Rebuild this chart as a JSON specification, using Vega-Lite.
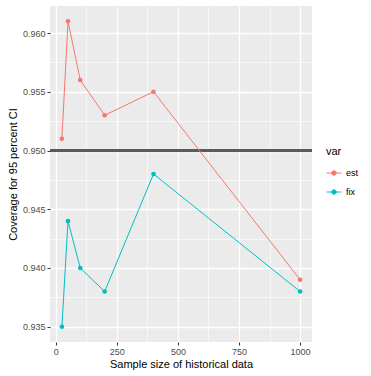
{
  "$schema": "https://vega.github.io/schema/vega-lite/v6.json",
  "autosize": {"type": "none"},
  "padding": {"left": 50, "top": 6, "right": 59, "bottom": 34},
  "width": 262,
  "height": 336,
  "background": "white",
  "config": {
    "font": "Liberation Sans",
    "view": {"fill": "#EBEBEB", "stroke": null},
    "axis": {
      "domain": false,
      "gridColor": "white",
      "tickColor": "#333333",
      "tickSize": 3,
      "labelColor": "#4D4D4D",
      "labelFontSize": 9,
      "titleFontSize": 11,
      "titleFontWeight": "normal",
      "titleColor": "black"
    }
  },
  "data": {
    "values": [
      {"n": 25, "coverage": 0.951, "var": "est"},
      {"n": 50, "coverage": 0.961, "var": "est"},
      {"n": 100, "coverage": 0.956, "var": "est"},
      {"n": 200, "coverage": 0.953, "var": "est"},
      {"n": 400, "coverage": 0.955, "var": "est"},
      {"n": 1000, "coverage": 0.939, "var": "est"},
      {"n": 25, "coverage": 0.935, "var": "fix"},
      {"n": 50, "coverage": 0.944, "var": "fix"},
      {"n": 100, "coverage": 0.940, "var": "fix"},
      {"n": 200, "coverage": 0.938, "var": "fix"},
      {"n": 400, "coverage": 0.948, "var": "fix"},
      {"n": 1000, "coverage": 0.938, "var": "fix"}
    ]
  },
  "encoding": {
    "x": {
      "field": "n",
      "type": "quantitative",
      "title": "Sample size of historical data",
      "scale": {"domain": [-23.75, 1048.75], "nice": false, "zero": false},
      "axis": {
        "values": [0, 125, 250, 375, 500, 625, 750, 875, 1000],
        "labelExpr": "datum.value % 250 === 0 ? format(datum.value, 'd') : ''",
        "labelPadding": 2,
        "titlePadding": 2,
        "gridWidth": {"condition": {"test": "datum.value % 250 === 0", "value": 1.3}, "value": 0.6},
        "tickOpacity": {"condition": {"test": "datum.value % 250 === 0", "value": 1}, "value": 0}
      }
    },
    "y": {
      "field": "coverage",
      "type": "quantitative",
      "title": "Coverage for 95 percent CI",
      "scale": {"domain": [0.9337, 0.9623], "nice": false, "zero": false},
      "axis": {
        "values": [0.935, 0.9375, 0.94, 0.9425, 0.945, 0.9475, 0.95, 0.9525, 0.955, 0.9575, 0.96],
        "labelExpr": "abs(datum.value * 1000 - round(datum.value * 200) * 5) < 0.01 ? format(datum.value, '.3f') : ''",
        "labelPadding": 2,
        "titlePadding": 4,
        "gridWidth": {"condition": {"test": "abs(datum.value * 1000 - round(datum.value * 200) * 5) < 0.01", "value": 1.3}, "value": 0.6},
        "tickOpacity": {"condition": {"test": "abs(datum.value * 1000 - round(datum.value * 200) * 5) < 0.01", "value": 1}, "value": 0}
      }
    },
    "color": {
      "field": "var",
      "type": "nominal",
      "scale": {"domain": ["est", "fix"], "range": ["#F8766D", "#00BFC4"]},
      "legend": {
        "orient": "none",
        "legendX": 276,
        "legendY": 140,
        "titleFontSize": 11,
        "titleFontWeight": "normal",
        "titleColor": "black",
        "labelFontSize": 9,
        "labelColor": "black",
        "symbolType": "M-1,0H1M0.3,0A0.3,0.3,0,1,1,-0.3,0A0.3,0.3,0,1,1,0.3,0Z",
        "symbolSize": 220,
        "symbolStrokeWidth": 1,
        "rowPadding": 6,
        "titlePadding": 8
      }
    }
  },
  "layer": [
    {
      "mark": {"type": "rule", "color": "#595959", "strokeWidth": 1.3},
      "encoding": {"y": {"datum": 0.95}, "x": null, "color": null}
    },
    {
      "mark": {"type": "line", "strokeWidth": 1},
      "encoding": {}
    },
    {
      "mark": {"type": "point", "filled": true, "size": 22, "opacity": 1},
      "encoding": {}
    }
  ]
}
